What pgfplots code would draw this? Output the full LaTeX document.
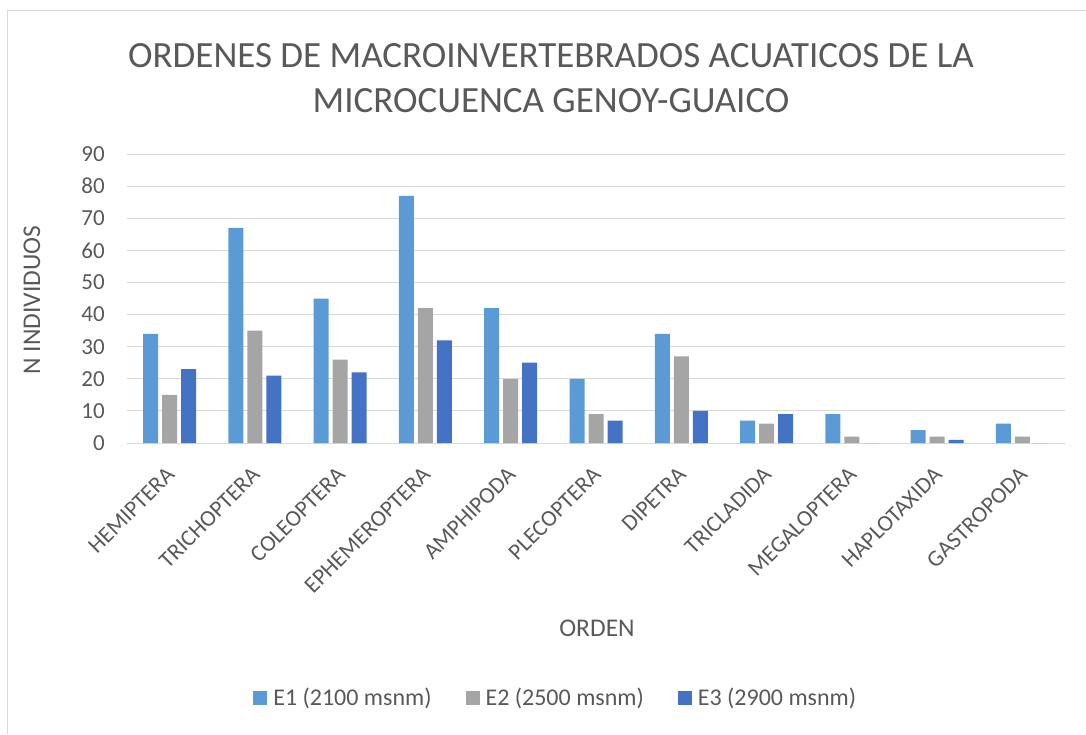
\documentclass[border=0pt]{standalone}
\usepackage{fontspec}
\setmainfont{Carlito}
\usepackage{pgfplots}
\pgfplotsset{compat=1.18}

\definecolor{eone}{HTML}{5B9BD5}
\definecolor{etwo}{HTML}{A5A5A5}
\definecolor{ethree}{HTML}{4472C4}
\definecolor{txt}{HTML}{595959}
\definecolor{grd}{HTML}{D9D9D9}

\begin{document}
\begin{tikzpicture}[x=1pt,y=1pt]
\path[use as bounding box] (0,0) rectangle (1086,-734);
\draw[grd, line width=1pt] (7,-734) -- (7,-10) -- (1086,-10);

% title
\node[txt, font=\fontsize{37}{44}\selectfont, anchor=base] at (551,-67) {ORDENES DE MACROINVERTEBRADOS ACUATICOS DE LA};
\node[txt, font=\fontsize{37}{44}\selectfont, anchor=base] at (551,-112) {MICROCUENCA GENOY-GUAICO};

% axis titles
\node[txt, font=\fontsize{25.5}{30}\selectfont] at (597,-628) {ORDEN};
\node[txt, font=\fontsize{25.5}{30}\selectfont, rotate=90] at (32,-300) {N INDIVIDUOS};

\begin{axis}[
    at={(127pt,-443pt)}, anchor=south west,
    scale only axis,
    width=938pt, height=289pt,
    ymin=0, ymax=90,
    ytick={0,10,...,90},
    xmin=-0.5, xmax=10.5,
    xtick={0,...,10},
    xticklabels={HEMIPTERA,TRICHOPTERA,COLEOPTERA,EPHEMEROPTERA,AMPHIPODA,PLECOPTERA,DIPETRA,TRICLADIDA,MEGALOPTERA,HAPLOTAXIDA,GASTROPODA},
    ybar=4pt, bar width=15pt,
    axis line style={draw=none},
    ymajorgrids, major grid style={grd, line width=1pt},
    major tick length=0pt,
    /pgf/number format/assume math mode=true,
    tick label style={txt, font=\fontsize{23}{27}\selectfont},
    yticklabel style={anchor=east, inner sep=0pt, xshift=-22pt},
    xticklabel style={yshift=-28pt, xshift=1pt, rotate=45, anchor=east, inner sep=0pt},
    legend image code/.code={\fill[#1] (0pt,-7pt) rectangle (14pt,7pt);},
    legend style={at={(0.456,-0.882)}, anchor=center, draw=none, legend columns=3,
        font=\fontsize{24}{28}\selectfont, text=txt,
        nodes={inner sep=0pt},
        /tikz/every odd column/.append style={column sep=6pt},
        /tikz/every even column/.append style={column sep=34pt}},
]
\addplot[fill=eone, draw=none] coordinates {(0,34) (1,67) (2,45) (3,77) (4,42) (5,20) (6,34) (7,7) (8,9) (9,4) (10,6)};
\addplot[fill=etwo, draw=none] coordinates {(0,15) (1,35) (2,26) (3,42) (4,20) (5,9) (6,27) (7,6) (8,2) (9,2) (10,2)};
\addplot[fill=ethree, draw=none] coordinates {(0,23) (1,21) (2,22) (3,32) (4,25) (5,7) (6,10) (7,9) (8,0) (9,1) (10,0)};
\legend{E1 (2100 msnm), E2 (2500 msnm), E3 (2900 msnm)}
\end{axis}
\end{tikzpicture}
\end{document}
